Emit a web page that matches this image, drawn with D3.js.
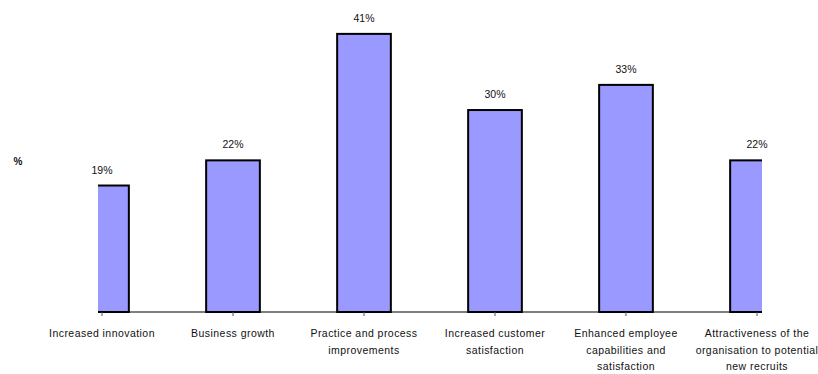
<!DOCTYPE html>
<html lang="en">
  <head>
    <meta charset="utf-8">
    <title></title>
    <style>
      body { margin: 0; background: #fff; }
      svg text { font-family: "Liberation Sans", Arial, sans-serif; fill: #111; }
    </style>
  </head>
  <body>
    <svg class="chart"></svg>
    <script src="https://d3js.org/d3.v7.min.js"></script>
    <script>
    // categories (each one split into the lines shown under the axis)
    const categories = [
      ["Increased innovation"],
      ["Business growth"],
      ["Practice and process", "improvements"],
      ["Increased customer", "satisfaction"],
      ["Enhanced employee", "capabilities and", "satisfaction"],
      ["Attractiveness of the", "organisation to potential", "new recruits"]
    ];
    const values = [18.6, 22.3, 40.9, 29.7, 33.4, 22.3];
    const yLabel = "%";

    const width = 818, height = 374;
    const svg = d3.select(".chart").attr("width", width).attr("height", height);

    const keys = categories.map(c => c.join(" "));
    const baseY = 312;
    const plotLeft = 98, plotRight = 762;

    const xScale = d3.scaleBand()
      .domain(keys).range([36.5, 822.5])
      .paddingInner(0.59).paddingOuter(0.295);
    const yScale = d3.scaleLinear().domain([0, 45]).range([baseY, baseY - 45 * 6.8]);

    svg.append("defs").append("clipPath").attr("id", "plot-clip")
      .append("rect")
      .attr("x", plotLeft).attr("y", 0)
      .attr("width", plotRight - plotLeft).attr("height", baseY + 1);

    const bars = svg.append("g").attr("clip-path", "url(#plot-clip)");
    bars.selectAll("rect").data(values).enter().append("rect")
      .attr("x", (d, i) => xScale(keys[i]))
      .attr("y", d => yScale(d))
      .attr("width", xScale.bandwidth())
      .attr("height", d => baseY - yScale(d))
      .style("fill", "#9999ff")
      .style("stroke", "#000")
      .style("stroke-width", 2);

    // value labels
    svg.selectAll("text.value").data(values).enter().append("text")
      .attr("class", "value")
      .attr("x", (d, i) => xScale(keys[i]) + xScale.bandwidth() / 2)
      .attr("y", d => yScale(d) - 12)
      .attr("text-anchor", "middle")
      .style("font-size", "10.5px")
      .text(d => Math.round(d) + "%");

    // x axis line + ticks
    svg.append("line")
      .attr("x1", plotLeft).attr("x2", plotRight)
      .attr("y1", baseY).attr("y2", baseY)
      .style("stroke", "#000").style("stroke-width", 1.2);
    svg.selectAll("line.tick").data(keys).enter().append("line")
      .attr("class", "tick")
      .attr("x1", d => xScale(d) + xScale.bandwidth() / 2)
      .attr("x2", d => xScale(d) + xScale.bandwidth() / 2)
      .attr("y1", baseY).attr("y2", baseY + 4)
      .style("stroke", "#555").style("stroke-width", 1);

    // category labels
    const catLabels = svg.selectAll("text.cat").data(categories).enter().append("text")
      .attr("class", "cat")
      .attr("text-anchor", "middle")
      .style("font-size", "10.5px")
      .style("letter-spacing", "0.45px")
      .attr("transform", (d, i) => "translate(" + (xScale(keys[i]) + xScale.bandwidth() / 2) + ",337)");
    catLabels.selectAll("tspan").data(d => d).enter().append("tspan")
      .attr("x", 0)
      .attr("y", (d, i) => i * 16.5)
      .text(d => d);

    svg.append("text")
      .attr("x", 18).attr("y", 165)
      .attr("text-anchor", "middle")
      .style("font-size", "10px").style("font-weight", "bold")
      .text(yLabel);
    </script>
  </body>
</html>
